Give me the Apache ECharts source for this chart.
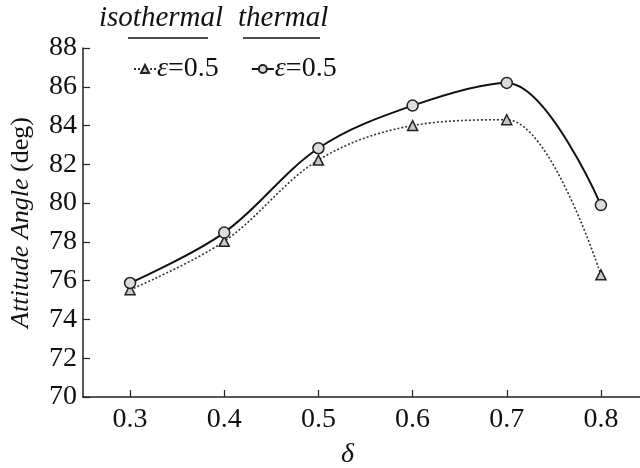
<!DOCTYPE html>
<html>
<head>
<meta charset="utf-8">
<script src="https://cdn.jsdelivr.net/npm/echarts@6/dist/echarts.min.js"></script>
<style>html,body{margin:0;padding:0;background:#fff}#c{width:640px;height:468px}</style>
</head>
<body>
<div id="c"></div>
<script>
const deltas = [0.3, 0.4, 0.5, 0.6, 0.7, 0.8];
const isothermal = [75.53, 78.03, 82.22, 84.0, 84.3, 76.3];
const thermal = [75.88, 78.48, 82.83, 85.03, 86.2, 79.9];
const xTicks = [0.3, 0.4, 0.5, 0.6, 0.7, 0.8];
const FONT = 'Liberation Serif';

const chart = echarts.init(document.getElementById('c'));
chart.setOption({
  animation: false,
  backgroundColor: '#fff',
  grid: { left: 83, top: 48, width: 565, bottom: 71, outerBoundsMode: 'none', containLabel: false },
  xAxis: {
    type: 'value', min: 0.25, max: 0.85,
    name: 'δ', nameLocation: 'middle', nameGap: 44,
    nameTextStyle: { fontFamily: FONT, fontSize: 28, fontStyle: 'italic', color: '#111', padding: [0, 36, 0, 0] },
    axisLine: { lineStyle: { color: '#222', width: 1.5 } },
    axisTick: { inside: true, length: 7, customValues: xTicks, lineStyle: { color: '#222', width: 1.2 } },
    axisLabel: { customValues: xTicks, margin: 9, fontFamily: FONT, fontSize: 28, color: '#111', formatter: v => v.toFixed(1) },
    splitLine: { show: false }
  },
  yAxis: {
    type: 'value', min: 70, max: 88, interval: 2,
    name: '{i|Attitude Angle} (deg)', nameLocation: 'middle', nameGap: 49,
    nameTextStyle: { fontFamily: FONT, fontSize: 26, color: '#111', rich: { i: { fontFamily: FONT, fontSize: 26, fontStyle: 'italic', color: '#111' } } },
    axisLine: { show: true, lineStyle: { color: '#222', width: 1.5 } },
    axisTick: { inside: true, length: 7, lineStyle: { color: '#222', width: 1.2 } },
    axisLabel: { margin: 6, fontFamily: FONT, fontSize: 28, color: '#111' },
    splitLine: { show: false }
  },
  legend: {
    left: 128, top: 50, itemGap: 32, itemWidth: 22, itemHeight: 10,
    data: ['isothermal', 'thermal'],
    formatter: () => '{e|ε}=0.5',
    textStyle: { fontFamily: FONT, fontSize: 28, color: '#111', padding: [0, 0, 0, -4], rich: { e: { fontFamily: FONT, fontSize: 28, fontStyle: 'italic', color: '#111' } } }
  },
  graphic: [
    { type: 'text', left: 99, top: 4, style: { text: 'isothermal', font: 'italic 29px "Liberation Serif"', fill: '#111' } },
    { type: 'line', shape: { x1: 128, y1: 38, x2: 208, y2: 38 }, style: { stroke: '#111', lineWidth: 1.5 } },
    { type: 'text', left: 238, top: 4, style: { text: 'thermal', font: 'italic 29px "Liberation Serif"', fill: '#111' } },
    { type: 'line', shape: { x1: 243, y1: 38, x2: 320, y2: 38 }, style: { stroke: '#111', lineWidth: 1.5 } }
  ],
  series: [
    {
      name: 'isothermal', type: 'line', smooth: 0.35,
      data: deltas.map((d, i) => [d, isothermal[i]]),
      symbol: 'triangle', symbolSize: 10,
      lineStyle: { color: '#333', width: 1.6, type: [2, 2] },
      itemStyle: { color: '#c8c8c8', borderColor: '#222', borderWidth: 1.5 },
      z: 2
    },
    {
      name: 'thermal', type: 'line', smooth: 0.35,
      data: deltas.map((d, i) => [d, thermal[i]]),
      symbol: 'circle', symbolSize: 11,
      lineStyle: { color: '#111', width: 2 },
      itemStyle: { color: '#dcdcdc', borderColor: '#222', borderWidth: 1.5 },
      z: 3
    }
  ]
});
</script>
</body>
</html>
